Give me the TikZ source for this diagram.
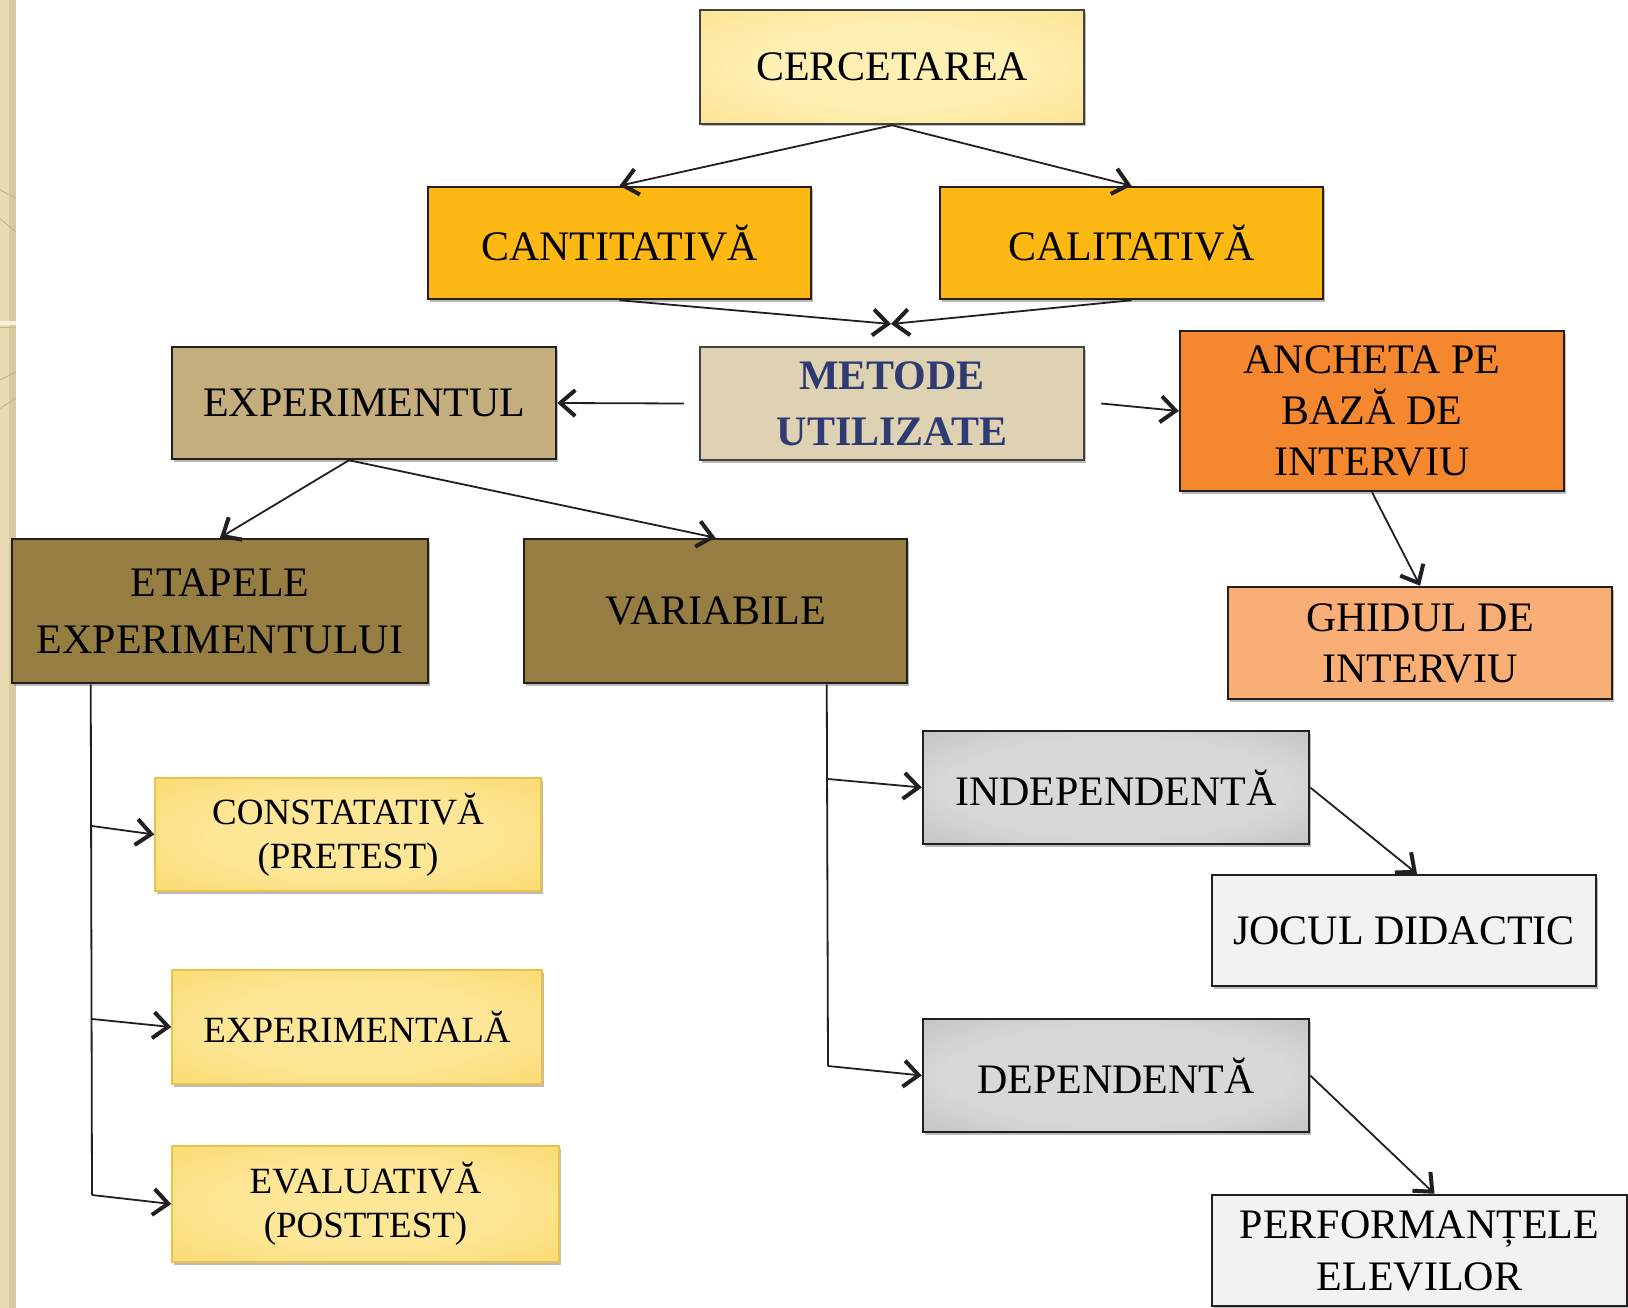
\documentclass[tikz,border=0pt]{standalone}
\usepackage{fontspec}
\setmainfont{Liberation Serif}
\usetikzlibrary{arrows.meta,shadows}
\definecolor{bdark}{HTML}{231F20}
\definecolor{cOrange}{HTML}{FDB813}
\definecolor{cMetTxt}{HTML}{2E3B73}
\definecolor{cExp}{HTML}{C4AE7D}
\definecolor{cAnc}{HTML}{F5882F}
\definecolor{cGhi}{HTML}{F9AE76}
\definecolor{cOlive}{HTML}{967E42}
\definecolor{cLight}{HTML}{F2F2F2}
\definecolor{yIn}{HTML}{FDE695}
\definecolor{yOut}{HTML}{F7CD48}
\definecolor{yBorder}{HTML}{E9C24E}
\definecolor{cerIn}{HTML}{FEEFB2}
\definecolor{cerOut}{HTML}{F9D76C}
\definecolor{gIn}{HTML}{D8D8D8}
\definecolor{gOut}{HTML}{A3A3A3}
\definecolor{metIn}{HTML}{DED2B2}
\definecolor{metOut}{HTML}{D2C5A0}
\definecolor{stripeA}{HTML}{EADBB2}
\definecolor{stripeB}{HTML}{D9C99E}
\definecolor{stripeC}{HTML}{C9B78A}
\pgfdeclareradialshading{grayrad}{\pgfpoint{0bp}{0bp}}{color(0bp)=(gIn); color(22bp)=(gIn); color(40bp)=(gIn!50!gOut); color(50bp)=(gOut)}
\pgfdeclareradialshading{yelrad}{\pgfpoint{0bp}{0bp}}{color(0bp)=(yIn); color(18bp)=(yIn); color(38bp)=(yIn!50!yOut); color(50bp)=(yOut)}
\pgfdeclareradialshading{cerrad}{\pgfpoint{0bp}{0bp}}{color(0bp)=(cerIn); color(18bp)=(cerIn); color(38bp)=(cerIn!50!cerOut); color(50bp)=(cerOut)}
\pgfdeclareradialshading{metrad}{\pgfpoint{0bp}{0bp}}{color(0bp)=(metIn); color(35bp)=(metIn); color(50bp)=(metOut)}
\begin{document}
\begin{tikzpicture}[x=1pt,y=-1pt,
  boxstyle/.style={draw=bdark, line width=2.5pt, inner sep=0pt, align=center,
    font=\fontsize{42}{51}\selectfont,
    drop shadow={shadow xshift=1.5pt, shadow yshift=-2.5pt, opacity=0.45, fill=black!60}},
  yelbox/.style={boxstyle, draw=yBorder, line width=1.5pt, shade, shading=yelrad,
    font=\fontsize{37}{44}\selectfont},
  graybox/.style={boxstyle, shade, shading=grayrad},
  conn/.style={line width=1.8pt, draw=bdark},
  arr/.style={conn, -{Straight Barb[length=15pt,width=26pt,line width=4pt]}},
]
\useasboundingbox (0,0) rectangle (1628,1308);
\fill[white] (0,0) rectangle (1628,1308);
% decorative left stripe
\fill[stripeA] (0,0) rectangle (16,1308);
\fill[stripeB] (9,0) rectangle (16,1308);
\begin{scope}
  \clip (0,0) rectangle (16,1308);
  \draw[stripeC, line width=1pt] (-10,185) -- (16,198);
  \draw[stripeC, line width=1pt] (-10,210) -- (16,232);
  \draw[stripeC, line width=1pt] (-10,415) -- (16,398);
  \draw[stripeC, line width=1pt] (-10,385) -- (16,372);
  \fill[white!60!stripeA] (0,321) rectangle (16,325);
  \draw[stripeC, line width=1pt] (0,327) -- (16,327);
\end{scope}

% nodes
\node[boxstyle, shade, shading=cerrad, draw=bdark!85, minimum width=384, minimum height=114] (cer) at (892,67) {CERCETAREA};
\node[boxstyle, fill=cOrange, minimum width=383, minimum height=112] (can) at (619.5,243) {CANTITATIVĂ};
\node[boxstyle, fill=cOrange, minimum width=383, minimum height=112] (cal) at (1131.5,243) {CALITATIVĂ};
\node[boxstyle, shade, shading=metrad, draw=bdark!85, minimum width=384, minimum height=113,
  font=\fontsize{42}{56}\selectfont\bfseries, text=cMetTxt] (met) at (892,403.5) {METODE\\UTILIZATE};
\node[boxstyle, fill=cExp, minimum width=384, minimum height=112] (exp) at (364,403) {EXPERIMENTUL};
\node[boxstyle, fill=cAnc, minimum width=384, minimum height=160] (anc) at (1372,411) {ANCHETA PE\\BAZĂ DE\\INTERVIU};
\node[boxstyle, fill=cGhi, minimum width=384, minimum height=112] (ghi) at (1420,643) {GHIDUL DE\\INTERVIU};
\node[boxstyle, fill=cOlive, minimum width=416, minimum height=144,
  font=\fontsize{42}{57}\selectfont] (eta) at (220,611) {ETAPELE\\EXPERIMENTULUI};
\node[boxstyle, fill=cOlive, minimum width=383, minimum height=144] (var) at (715.5,611) {VARIABILE};
\node[yelbox, minimum width=386, minimum height=113] (con) at (348,834.5) {CONSTATATIVĂ\\(PRETEST)};
\node[yelbox, minimum width=370, minimum height=114] (exl) at (357,1027) {EXPERIMENTALĂ};
\node[yelbox, minimum width=387, minimum height=116] (eva) at (365.5,1204) {EVALUATIVĂ\\(POSTTEST)};
\node[graybox, minimum width=386, minimum height=113] (ind) at (1116,787.5) {INDEPENDENTĂ};
\node[boxstyle, fill=cLight, minimum width=384, minimum height=111] (joc) at (1404,930.5) {JOCUL DIDACTIC};
\node[graybox, minimum width=386, minimum height=113] (dep) at (1116,1075.5) {DEPENDENTĂ};
\node[boxstyle, fill=cLight, minimum width=415, minimum height=111,
  font=\fontsize{42}{52}\selectfont] (per) at (1419.5,1250.5) {PERFORMANȚELE\\ELEVILOR};

% connectors
\coordinate (meet) at (891,324);
\draw[arr] (cer.south) -- (can.north);
\draw[arr] (cer.south) -- (cal.north);
\draw[arr] (can.south) -- (meet);
\draw[arr] (cal.south) -- (meet);
\draw[arr] ([xshift=-15pt]met.west) -- (exp.east);
\draw[arr] ([xshift=16pt]met.east) -- (anc.west);
\draw[arr] (anc.south) -- (ghi.north);
\coordinate (expb) at ([xshift=-15pt]exp.south);
\draw[arr] (expb) -- (eta.north);
\draw[arr] (expb) -- (var.north);

% etapele branches
\coordinate (etatop) at ([xshift=80pt]eta.south west);
\coordinate (e1) at (92,826);
\coordinate (e2) at (92,1019);
\coordinate (e3) at (92,1195);
\draw[conn] (etatop) -- (e3);
\draw[arr] (e1) -- (con.west);
\draw[arr] (e2) -- (exl.west);
\draw[arr] (e3) -- (eva.west);

% variabile branches
\coordinate (vartop) at ([xshift=304pt]var.south west);
\coordinate (v1) at (828,779);
\coordinate (v2) at (828,1066);
\draw[conn] (vartop) -- (v2);
\draw[arr] (v1) -- (ind.west);
\draw[arr] (v2) -- (dep.west);

\draw[arr] (ind.east) -- ([xshift=13pt]joc.north);
\draw[arr] (dep.east) -- ([xshift=15pt]per.north);
\end{tikzpicture}
\end{document}
